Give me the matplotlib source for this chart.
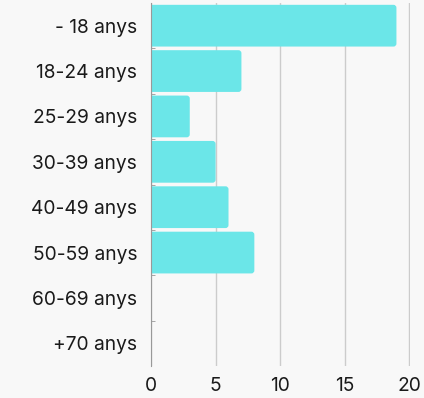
import matplotlib
matplotlib.use("Agg")
import matplotlib.pyplot as plt
from matplotlib.patches import FancyBboxPatch

categories = ["- 18 anys", "18-24 anys", "25-29 anys", "30-39 anys", "40-49 anys", "50-59 anys", "60-69 anys", "+70 anys"]
values = [19, 7, 3, 5, 6, 8, 0, 0]
xticks = [0, 5, 10, 15, 20]

plt.rcParams['font.family'] = ['Inter', 'DejaVu Sans']
bg = "#f8f8f8"
fig = plt.figure(figsize=(4.24, 3.98), dpi=100, facecolor=bg)
ax = fig.add_axes([151/424, 1 - 366/398, (410 - 151)/424, (366 - 3)/398], facecolor=bg)

y = list(range(len(categories)))
bars = ax.barh(y, values, height=0.92, color="#6be6e8", zorder=3)
ax.set_ylim(len(categories) - 0.5, -0.5)
ax.set_xlim(0, 20.05)

# rounded right corners
fig.canvas.draw()
px_x = ax.transData.transform((1, 0))[0] - ax.transData.transform((0, 0))[0]
px_y = abs(ax.transData.transform((0, 1))[1] - ax.transData.transform((0, 0))[1])
r = 3.0 / px_x
ext = 0.4
for b in bars:
    w = b.get_width()
    if w <= 0:
        continue
    b.set_visible(False)
    p = FancyBboxPatch((b.get_x() - ext, b.get_y()), w + ext, b.get_height(),
                       boxstyle=f"round,pad=0,rounding_size={r}",
                       mutation_aspect=px_x / px_y,
                       facecolor="#6be6e8", edgecolor="none", zorder=3)
    ax.add_patch(p)

ax.set_yticks(y)
ax.set_yticklabels(categories, fontsize=13.8, color="#1a1a1a")
ax.set_xticks(xticks)
ax.set_xticklabels([str(t) for t in xticks], fontsize=13.8, color="#1a1a1a")
ax.set_yticks([i + 0.5 for i in range(len(categories) - 1)], minor=True)
ax.tick_params(axis='y', which='major', length=0, pad=10)
ax.tick_params(axis='y', which='minor', length=3, color="#999999", direction='in')
ax.tick_params(axis='x', length=0, pad=8)
ax.grid(axis='x', color="#cccccc", linewidth=1, zorder=0)
for s in ["top", "right", "bottom"]:
    ax.spines[s].set_visible(False)
ax.spines["left"].set_color("#999999")
ax.spines["left"].set_zorder(4)

fig.savefig("out.png", dpi=100, facecolor=bg)
